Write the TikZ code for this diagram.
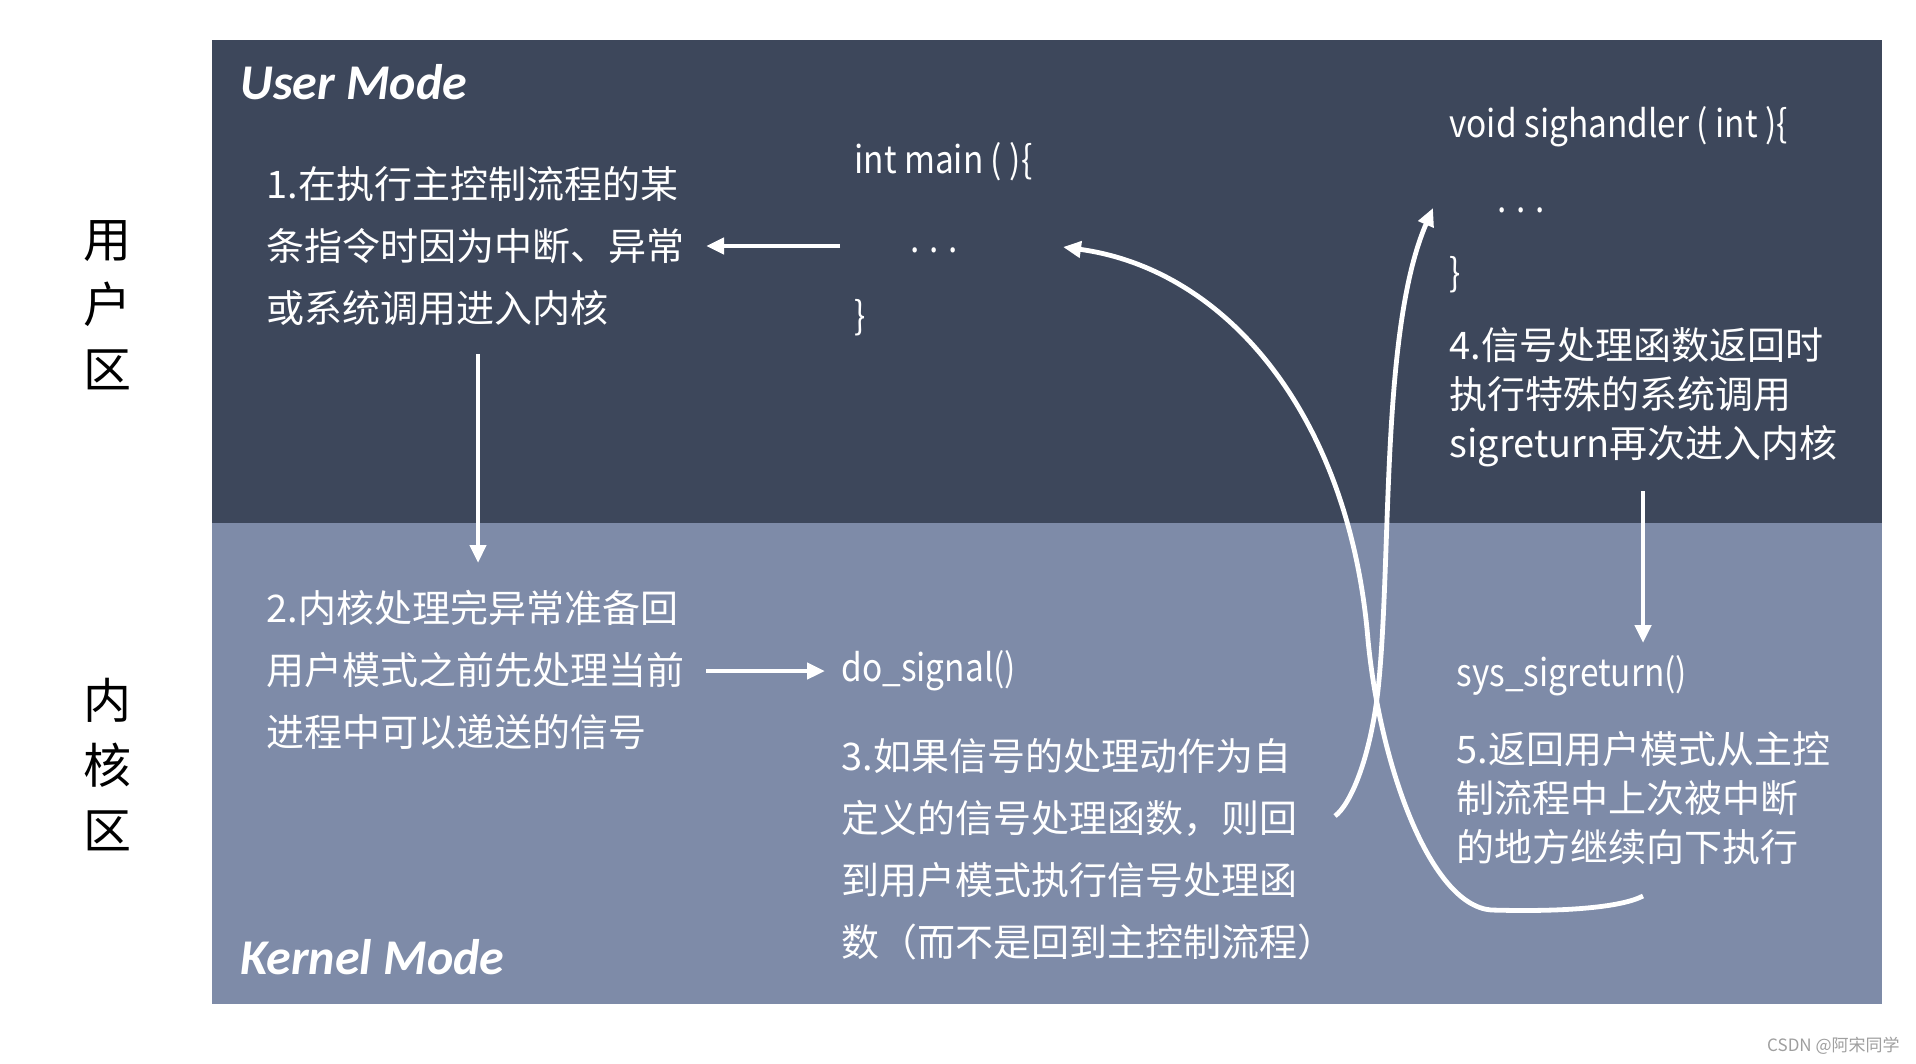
\documentclass[tikz,border=0pt]{standalone}
\usepackage{fontspec}
\newfontfamily\cjk{Noto Sans CJK SC}
\newfontfamily\codefont[FakeStretch=0.88]{Noto Sans CJK SC}
\newfontfamily\titlefont{Carlito}
\usetikzlibrary{arrows.meta}
\definecolor{usercol}{HTML}{3D475B}
\definecolor{kernelcol}{HTML}{7E8BA8}
\begin{document}
\begin{tikzpicture}[x=0.5pt,y=-0.5pt,
  txt/.style={text=white, font=\cjk\fontsize{19}{31}\selectfont, align=left, anchor=west, inner sep=0pt},
  txtb/.style={txt, font=\cjk\fontsize{19}{24.5}\selectfont},
  code/.style={txt, font=\codefont\fontsize{19}{31}\selectfont},
  modelabel/.style={text=white, font=\titlefont\bfseries\itshape\fontsize{25}{30}\selectfont, anchor=west, inner sep=0pt},
  side/.style={text=black, font=\cjk\fontsize{24}{32.5}\selectfont, align=center, inner sep=0pt},
  arr/.style={white, line width=2.4pt, -{Triangle[length=9pt,width=8pt]}},
]
\useasboundingbox (0,0) rectangle (1916,1064);
\fill[white] (0,0) rectangle (1916,1064);
% regions
\fill[usercol] (212,40) rectangle (1882,523);
\fill[kernelcol] (212,523) rectangle (1882,1004);

% mode titles
\node[modelabel] (um) at (240,82) {User Mode};
\node[modelabel] (km) at (240,957) {Kernel Mode};

% side labels
\node[side] (lu) at (107.5,305) {用\\户\\区};
\node[side] (lk) at (107.5,765) {内\\核\\区};

% user mode texts
\node[txt] (t1) at (266,246) {1.在执行主控制流程的某\\条指令时因为中断、异常\\或系统调用进入内核};
\node[code] (mainhead) at (854,162) {int main ( )\{};
\node[code] (maindots) at (910,250) {. . .};
\node[code] (mainend) at (854,318) {\}};
\node[code] (sighead) at (1449,127) {void sighandler ( int )\{};
\node[code] (sigdots) at (1497,210) {. . .};
\node[code] (sigend) at (1449,275) {\}};
\node[txtb] (t4) at (1449,397) {4.信号处理函数返回时\\执行特殊的系统调用\\sigreturn再次进入内核};

% kernel mode texts
\node[txt] (t2) at (266,670) {2.内核处理完异常准备回\\用户模式之前先处理当前\\进程中可以递送的信号};
\node[code] (dosig) at (841,671) {do\_signal()};
\node[txt] (t3) at (841,849) {3.如果信号的处理动作为自\\定义的信号处理函数，则回\\到用户模式执行信号处理函\\数（而不是回到主控制流程）};
\node[code] (sysret) at (1456,676) {sys\_sigreturn()};
\node[txtb] (t5) at (1456,798) {5.返回用户模式从主控\\制流程中上次被中断\\的地方继续向下执行};

% watermark
\node[anchor=east, text=gray!75, font=\cjk\fontsize{8.5}{10}\selectfont, inner sep=0pt] (wm) at (1900,1046) {CSDN @阿宋同学};

% arrow end points
\coordinate (a1s) at (840,246); \coordinate (a1e) at (706,246);
\coordinate (a2s) at (478,354); \coordinate (a2e) at (478,563);
\coordinate (a3s) at (706,671); \coordinate (a3e) at (825,671);
\coordinate (a4s) at (1643,491); \coordinate (a4e) at (1643,643);
\coordinate (cAs) at (1643,896); \coordinate (cAe) at (1063,247);
\coordinate (cBs) at (1335,816); \coordinate (cBe) at (1433,208);

\draw[arr] (a1s) -- (a1e);
\draw[arr] (a2s) -- (a2e);
\draw[arr] (a3s) -- (a3e);
\draw[arr] (a4s) -- (a4e);
\draw[arr] (cAs) .. controls (1620,908) and (1560,912) .. (1491,910)
  .. controls (1430,905) and (1380,765) .. (1368,640)
  .. controls (1350,420) and (1230,270) .. (cAe);
\draw[arr] (cBs) .. controls (1350,805) and (1370,760) .. (1378,690)
  .. controls (1392,560) and (1380,330) .. (cBe);
\end{tikzpicture}
\end{document}
